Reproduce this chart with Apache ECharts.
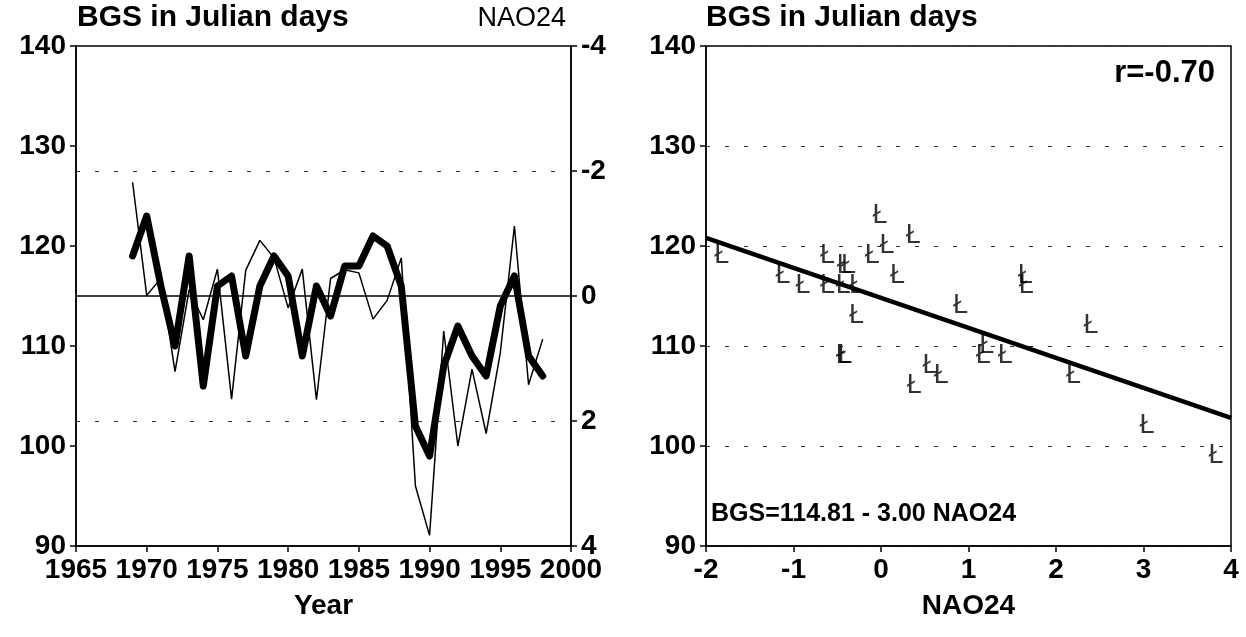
<!DOCTYPE html>
<html>
<head>
<meta charset="utf-8">
<script src="https://cdn.jsdelivr.net/npm/echarts@6/dist/echarts.min.js"></script>
<style>
html,body{margin:0;padding:0;background:#fff;}
#chart{width:1246px;height:637px;}
</style>
</head>
<body>
<div id="chart"></div>
<script>
// ---- data ----
var years = [1969,1970,1971,1972,1973,1974,1975,1976,1977,1978,1979,1980,1981,1982,1983,1984,1985,1986,1987,1988,1989,1990,1991,1992,1993,1994,1995,1996,1997,1998];
var bgs = [119,123,116,110,119,106,116,117,109,116,119,117,109,116,113,118,118,121,120,116,102,99,108,112,109,107,114,117,109,107];
var nao24 = [-1.82,-0.01,-0.28,1.21,-0.10,0.38,-0.43,1.65,-0.41,-0.89,-0.61,0.19,-0.43,1.66,-0.28,-0.42,-0.37,0.37,0.07,-0.61,3.04,3.83,0.56,2.40,1.17,2.20,0.91,-1.12,1.42,0.69];
var regIntercept = 114.81;
var regSlope = -3.00;
var rValue = "-0.70";
var yearTicks = [1965,1970,1975,1980,1985,1990,1995,2000];
var naoTicks = [-4,-2,0,2,4];

// ---- build ----
var FONT = 'Liberation Sans, Arial, sans-serif';
var bgsSeries = years.map(function(y,i){return [y,bgs[i]];});
var naoSeries = years.map(function(y,i){return [y,nao24[i]];});
var scatterData = nao24.map(function(n,i){return [n,bgs[i]];});
var regLine = [[-2, regIntercept + regSlope*(-2)], [4, regIntercept + regSlope*4]];

var lbl = {color:'#000', fontSize:28, fontWeight:'bold', fontFamily:FONT};
var axLine = {show:true, onZero:false, lineStyle:{color:'#000', width:1.5}};
var axTick = {show:true, length:6, lineStyle:{color:'#000', width:1.5}};
var plain = function(v){ return String(v); };

var chart = echarts.init(document.getElementById('chart'), null, {renderer:'canvas'});
chart.setOption({
  animation:false,
  backgroundColor:'#fff',
  title:[
    {text:'BGS in Julian days', left:77, top:3, padding:0, textStyle:{fontSize:30, fontWeight:'bold', fontFamily:FONT, color:'#000'}},
    {text:'NAO24', right:680, top:5, padding:0, textStyle:{fontSize:27, fontWeight:'normal', fontFamily:FONT, color:'#000'}},
    {text:'BGS in Julian days', left:706, top:3, padding:0, textStyle:{fontSize:30, fontWeight:'bold', fontFamily:FONT, color:'#000'}},
    {text:'r=' + rValue, right:31, top:58, padding:0, textStyle:{fontSize:31, fontWeight:'bold', fontFamily:FONT, color:'#000'}},
    {text:'BGS=' + regIntercept.toFixed(2) + ' - ' + Math.abs(regSlope).toFixed(2) + ' NAO24', left:711, top:502, padding:0, textStyle:{fontSize:25, fontWeight:'bold', fontFamily:FONT, color:'#000'}}
  ],
  grid:[
    {left:76, right:675, top:46, bottom:91, show:true, borderColor:'#000', borderWidth:1.5, backgroundColor:'transparent'},
    {left:706, right:15, top:46, bottom:91, show:true, borderColor:'#000', borderWidth:1.5, backgroundColor:'transparent'}
  ],
  xAxis:[
    {type:'value', gridIndex:0, min:yearTicks[0], max:yearTicks[yearTicks.length-1], interval:5,
     axisLine:axLine, axisTick:axTick, splitLine:{show:false},
     axisLabel:Object.assign({margin:10, formatter:plain}, lbl),
     name:'Year', nameLocation:'middle', nameGap:46, nameTextStyle:{fontSize:28, fontWeight:'bold', fontFamily:FONT, color:'#000', verticalAlign:'top'}},
    {type:'value', gridIndex:1, min:-2, max:4, interval:1,
     axisLine:axLine, axisTick:axTick, splitLine:{show:false},
     axisLabel:Object.assign({margin:10, formatter:plain}, lbl),
     name:'NAO24', nameLocation:'middle', nameGap:46, nameTextStyle:{fontSize:28, fontWeight:'bold', fontFamily:FONT, color:'#000', verticalAlign:'top'}}
  ],
  yAxis:[
    {type:'value', gridIndex:0, min:90, max:140, interval:10,
     axisLine:axLine, axisTick:axTick, splitLine:{show:false},
     axisLabel:Object.assign({margin:10, formatter:plain}, lbl)},
    {type:'value', gridIndex:0, position:'right', inverse:true, min:naoTicks[0], max:naoTicks[naoTicks.length-1], interval:2,
     axisLine:axLine, axisTick:axTick, splitLine:{show:false},
     axisLabel:Object.assign({margin:10, formatter:plain}, lbl)},
    {type:'value', gridIndex:1, min:90, max:140, interval:10,
     axisLine:axLine, axisTick:axTick,
     splitLine:{show:true, lineStyle:{color:'#333', width:1, type:[4,15]}},
     axisLabel:Object.assign({margin:10, formatter:plain}, lbl)}
  ],
  series:[
    {type:'line', name:'NAO24', xAxisIndex:0, yAxisIndex:1, data:naoSeries, showSymbol:false, symbol:'none',
     lineStyle:{color:'#000', width:1.5}, z:2,
     markLine:{silent:true, symbol:'none', label:{show:false},
       data:[
         {yAxis:-2, lineStyle:{color:'#333', width:1, type:[4,15]}},
         {yAxis:2, lineStyle:{color:'#333', width:1, type:[4,15]}},
         {yAxis:0, lineStyle:{color:'#000', width:1.5, type:'solid'}}
       ]}},
    {type:'line', name:'BGS', xAxisIndex:0, yAxisIndex:0, data:bgsSeries, showSymbol:false, symbol:'none',
     lineStyle:{color:'#000', width:7, join:'round', cap:'round'}, z:3},
    {type:'line', name:'fit', xAxisIndex:1, yAxisIndex:2, data:regLine, showSymbol:false, symbol:'none',
     lineStyle:{color:'#000', width:4.5}, z:3},
    {type:'scatter', name:'pts', xAxisIndex:1, yAxisIndex:2, data:scatterData, symbol:'circle', symbolSize:1,
     itemStyle:{color:'rgba(0,0,0,0)'},
     label:{show:true, position:'inside', formatter:'Ł', color:'#000', fontSize:27, fontFamily:FONT}, z:4}
  ]
});
</script>
</body>
</html>
